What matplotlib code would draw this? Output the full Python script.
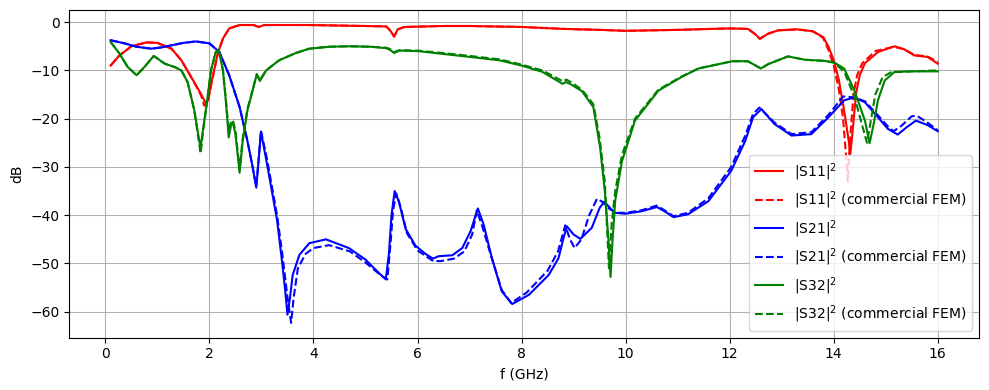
import matplotlib

matplotlib.use("Agg")

import matplotlib.pyplot as plt

# |S11|^2
s11_f = [0.1, 0.27, 0.5, 0.79, 1.0, 1.27, 1.46, 1.65, 1.84, 1.92, 1.97, 2.06, 2.16, 2.26,
         2.38, 2.58, 2.85, 2.95, 3.05, 3.9, 5.0, 5.4, 5.48, 5.55, 5.62, 5.75, 6.5, 7.0, 8.0,
         8.8, 9.5, 10.0, 11.0, 12.0, 12.35, 12.48, 12.58, 12.74, 12.93, 13.3, 13.6, 13.8,
         13.9, 14.0, 14.1, 14.2, 14.28, 14.32, 14.36, 14.43, 14.5, 14.6, 14.85, 15.17,
         15.35, 15.55, 15.8, 16.0]
s11_db = [-9.0, -6.9, -5.0, -4.2, -4.3, -5.5, -7.9, -11.4, -14.9, -16.6, -16.3, -11.4, -6.5,
          -3.4, -1.3, -0.6, -0.6, -1.0, -0.6, -0.6, -0.8, -0.9, -1.8, -3.0, -1.5, -1.0, -0.8,
          -0.8, -1.0, -1.4, -1.6, -1.8, -1.6, -1.3, -1.4, -2.4, -3.4, -2.4, -1.7, -1.5, -1.9,
          -3.1, -5.1, -7.9, -12.0, -18.3, -24.0, -27.3, -23.0, -14.8, -11.0, -8.5, -6.2,
          -5.0, -5.6, -6.9, -7.2, -8.6]

s11_fem_f = [0.1, 0.27, 0.5, 0.79, 1.0, 1.27, 1.46, 1.65, 1.84, 1.9, 1.97, 2.06, 2.16, 2.26,
             2.38, 2.58, 2.85, 2.95, 3.05, 3.9, 5.0, 5.4, 5.48, 5.55, 5.62, 5.75, 6.5, 7.0,
             8.0, 8.8, 9.5, 10.0, 11.0, 12.0, 12.35, 12.48, 12.58, 12.74, 12.93, 13.3, 13.6,
             13.8, 13.9, 14.0, 14.1, 14.18, 14.24, 14.27, 14.31, 14.38, 14.45, 14.55, 14.8,
             15.15, 15.35, 15.55, 15.8, 16.0]
s11_fem_db = [-9.0, -6.9, -5.0, -4.2, -4.3, -5.5, -7.9, -11.4, -15.2, -17.3, -16.5, -11.6,
              -6.6, -3.4, -1.3, -0.6, -0.6, -1.0, -0.6, -0.6, -0.8, -0.9, -1.8, -3.0, -1.5,
              -1.0, -0.8, -0.8, -1.0, -1.4, -1.6, -1.8, -1.6, -1.3, -1.4, -2.4, -3.5, -2.4,
              -1.7, -1.5, -1.9, -3.3, -5.8, -9.0, -14.0, -20.0, -28.0, -33.0, -25.0, -15.0,
              -11.0, -8.5, -6.0, -5.1, -5.6, -6.8, -7.1, -8.2]

# |S21|^2
s21_f = [0.1, 0.37, 0.6, 0.88, 1.1, 1.27, 1.5, 1.74, 2.0, 2.19, 2.38, 2.58, 2.73, 2.83, 2.9,
         2.95, 2.99, 3.1, 3.2, 3.3, 3.4, 3.46, 3.5, 3.55, 3.6, 3.73, 3.92, 4.24, 4.68, 5.0,
         5.26, 5.39, 5.45, 5.5, 5.56, 5.64, 5.77, 5.96, 6.15, 6.3, 6.4, 6.67, 6.86, 7.02,
         7.16, 7.27, 7.43, 7.62, 7.82, 8.14, 8.52, 8.71, 8.8, 8.87, 9.0, 9.13, 9.35, 9.5,
         9.59, 9.7, 9.8, 9.99, 10.3, 10.6, 10.75, 10.92, 11.2, 11.59, 12.03, 12.3, 12.45,
         12.61, 12.86, 13.19, 13.57, 13.9, 14.2, 14.4, 14.6, 14.85, 15.04, 15.23, 15.4,
         15.58, 15.8, 16.0]
s21_db = [-3.75, -4.4, -5.1, -5.5, -5.2, -4.8, -4.3, -4.0, -4.4, -6.2, -11.0, -17.6, -24.6,
          -30.0, -34.3, -28.0, -22.7, -29.0, -35.0, -41.0, -50.0, -56.0, -60.6, -57.0, -52.4,
          -48.2, -45.8, -45.0, -46.8, -49.2, -52.0, -53.3, -48.0, -40.0, -35.0, -37.1, -42.8,
          -46.3, -48.0, -49.0, -48.5, -48.3, -46.8, -43.3, -38.6, -41.9, -48.9, -55.8, -58.4,
          -56.5, -52.4, -48.9, -45.0, -42.3, -44.0, -44.9, -42.6, -38.5, -37.2, -38.5, -39.5,
          -39.7, -39.2, -38.3, -39.2, -40.4, -39.8, -37.1, -30.8, -24.6, -19.7, -18.0, -21.1,
          -23.5, -23.2, -19.7, -16.2, -15.6, -16.6, -19.7, -22.1, -23.3, -21.8, -20.4, -21.3,
          -22.6]

s21_fem_f = [0.1, 0.37, 0.6, 0.88, 1.1, 1.27, 1.5, 1.74, 2.0, 2.19, 2.38, 2.58, 2.73, 2.83,
             2.9, 2.95, 2.99, 3.1, 3.2, 3.3, 3.4, 3.5, 3.57, 3.62, 3.7, 3.85, 4.0, 4.3, 4.7,
             5.0, 5.3, 5.42, 5.48, 5.53, 5.59, 5.68, 5.8, 6.0, 6.3, 6.45, 6.7, 6.9, 7.05,
             7.14, 7.25, 7.43, 7.62, 7.8, 8.1, 8.5, 8.7, 8.84, 8.93, 9.02, 9.15, 9.3, 9.45,
             9.55, 9.7, 9.85, 10.0, 10.3, 10.6, 10.75, 10.92, 11.2, 11.59, 12.03, 12.3, 12.45,
             12.57, 12.86, 13.19, 13.57, 13.9, 14.18, 14.4, 14.6, 14.85, 15.04, 15.15, 15.3,
             15.5, 15.6, 15.8, 16.0]
s21_fem_db = [-3.75, -4.4, -5.1, -5.5, -5.2, -4.8, -4.3, -4.0, -4.4, -6.2, -11.0, -17.6,
              -24.6, -30.0, -34.0, -28.0, -22.5, -28.0, -34.0, -40.0, -48.0, -57.0, -62.3,
              -57.0, -51.0, -48.0, -46.8, -46.2, -47.5, -49.8, -52.5, -53.3, -46.0, -39.0,
              -35.5, -38.5, -43.8, -47.3, -49.5, -49.5, -49.0, -47.5, -44.0, -39.0, -42.5,
              -49.0, -55.5, -58.2, -56.0, -51.5, -47.5, -42.1, -45.0, -46.8, -45.0, -40.0,
              -36.6, -37.2, -38.8, -39.5, -39.5, -39.0, -38.0, -39.0, -40.2, -39.5, -36.5,
              -30.0, -23.5, -19.0, -17.7, -20.8, -23.2, -22.8, -19.2, -15.4, -15.6, -16.4,
              -19.3, -21.6, -22.6, -21.5, -19.5, -19.4, -20.8, -22.4]

# |S32|^2
s32_f = [0.1, 0.27, 0.43, 0.6, 0.75, 0.93, 1.14, 1.33, 1.46, 1.58, 1.71, 1.78, 1.83, 1.88,
         1.94, 2.03, 2.12, 2.18, 2.26, 2.32, 2.37, 2.42, 2.45, 2.5, 2.58, 2.64, 2.73, 2.83,
         2.91, 2.97, 3.09, 3.34, 3.66, 3.92, 4.3, 4.7, 5.1, 5.4, 5.48, 5.55, 5.65, 6.0, 6.5,
         7.0, 7.57, 8.0, 8.4, 8.79, 8.85, 8.95, 9.16, 9.38, 9.51, 9.6, 9.67, 9.71, 9.75, 9.8,
         9.93, 10.18, 10.63, 11.07, 11.4, 12.05, 12.35, 12.5, 12.6, 12.74, 13.12, 13.45,
         13.8, 14.0, 14.2, 14.4, 14.6, 14.69, 14.77, 14.85, 14.98, 15.17, 15.5, 16.0]
s32_db = [-4.1, -6.5, -9.3, -11.0, -9.3, -7.0, -8.6, -9.3, -10.0, -12.4, -18.3, -23.0, -26.0,
          -22.0, -17.6, -10.0, -6.2, -5.7, -10.0, -16.9, -23.9, -21.1, -20.8, -23.2, -31.2,
          -24.6, -18.3, -14.2, -10.8, -12.2, -10.0, -7.9, -6.4, -5.5, -5.1, -5.0, -5.1, -5.4,
          -5.8, -6.4, -5.9, -6.0, -6.6, -7.2, -7.9, -9.0, -10.3, -12.8, -12.4, -12.9, -14.3,
          -17.6, -26.0, -35.0, -45.0, -52.8, -45.0, -37.0, -28.8, -20.4, -14.2, -11.4, -9.6,
          -8.1, -8.1, -9.0, -9.6, -8.7, -7.1, -7.8, -8.0, -8.3, -9.6, -14.2, -20.4, -25.1,
          -21.0, -16.2, -12.1, -10.3, -10.2, -10.2]

s32_fem_f = [0.1, 0.27, 0.43, 0.6, 0.75, 0.93, 1.14, 1.33, 1.46, 1.58, 1.71, 1.78, 1.83,
             1.88, 1.94, 2.03, 2.12, 2.18, 2.26, 2.32, 2.37, 2.42, 2.45, 2.5, 2.58, 2.64,
             2.73, 2.83, 2.91, 2.97, 3.09, 3.34, 3.66, 3.92, 4.3, 4.7, 5.1, 5.4, 5.48, 5.55,
             5.65, 6.0, 6.5, 7.0, 7.57, 8.0, 8.4, 8.8, 8.86, 8.96, 9.16, 9.38, 9.5, 9.6, 9.68,
             9.73, 9.8, 9.93, 10.18, 10.63, 11.07, 11.4, 12.05, 12.35, 12.5, 12.6, 12.74,
             13.12, 13.45, 13.8, 14.0, 14.2, 14.4, 14.55, 14.64, 14.72, 14.8, 14.94, 15.1,
             15.5, 16.0]
s32_fem_db = [-4.1, -6.5, -9.3, -11.0, -9.3, -7.0, -8.6, -9.3, -10.0, -12.4, -18.3, -23.5,
              -27.2, -22.5, -17.6, -10.0, -6.2, -5.7, -10.0, -16.5, -22.5, -20.5, -20.3,
              -22.5, -30.5, -24.0, -18.0, -14.0, -10.8, -12.0, -10.0, -7.9, -6.4, -5.5, -5.1,
              -5.0, -5.1, -5.3, -5.6, -6.2, -5.8, -5.9, -6.4, -7.0, -7.7, -8.8, -10.0, -12.3,
              -11.9, -12.5, -14.0, -17.0, -24.0, -33.0, -51.0, -42.0, -35.0, -27.5, -20.0,
              -14.0, -11.3, -9.6, -8.1, -8.1, -9.0, -9.6, -8.7, -7.1, -7.8, -8.0, -8.4, -10.2,
              -15.5, -21.5, -25.0, -20.0, -15.0, -11.4, -10.4, -10.2, -10.0]


def main() -> None:
    fig, ax = plt.subplots(figsize=(9.89, 3.9), dpi=100)
    ax.plot(s11_f, s11_db, "r-", label="|S11|$^2$")
    ax.plot(s11_fem_f, s11_fem_db, "r--", label="|S11|$^2$ (commercial FEM)")
    ax.plot(s21_f, s21_db, "b-", label="|S21|$^2$")
    ax.plot(s21_fem_f, s21_fem_db, "b--", label="|S21|$^2$ (commercial FEM)")
    ax.plot(s32_f, s32_db, "g-", label="|S32|$^2$")
    ax.plot(s32_fem_f, s32_fem_db, "g--", label="|S32|$^2$ (commercial FEM)")
    ax.set_xlabel("f (GHz)")
    ax.set_ylabel("dB")
    ax.grid(True)
    ax.legend(loc="lower right")
    fig.subplots_adjust(left=0.070, right=0.990, top=0.974, bottom=0.134)
    fig.savefig("out.png", dpi=100)
    plt.close(fig)


if __name__ == "__main__":
    main()
